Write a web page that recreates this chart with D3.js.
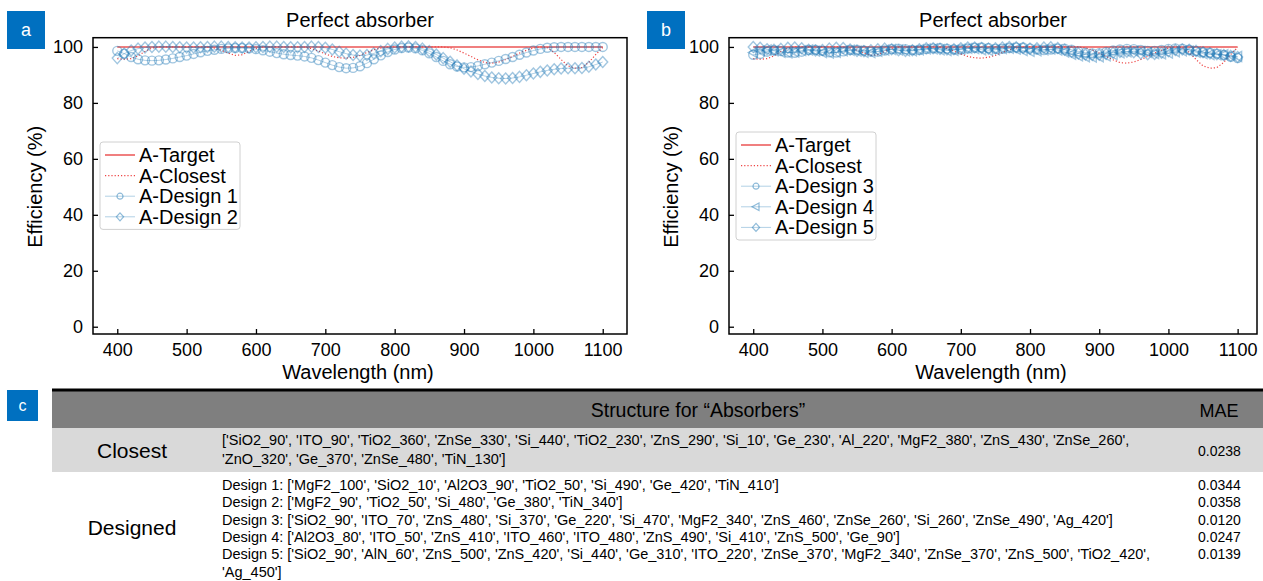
<!DOCTYPE html>
<html lang="en">
<head>
  <meta charset="UTF-8">
  <title>Perfect absorber designs</title>
  <style>
    body { margin: 0; background: #fff; font-family: Arial, "Liberation Sans", sans-serif; }
    svg text { font-family: Arial, "Liberation Sans", sans-serif; fill: #000; }
    .tick text { font-size: 18px; }
    .axis-label { font-size: 20px; }
    .title { font-size: 20px; }
    .legend text { font-size: 20px; }
    .tbl { font-size: 14.5px; }
    .mae { font-size: 14px; }
  </style>
</head>
<body>
  <div id="chart"></div>

  <script src="https://d3js.org/d3.v7.min.js"></script>
  <script>
    // wavelength grid (nm)
    const wavelengths = [400, 410, 420, 430, 440, 450, 460, 470, 480, 490, 500, 510, 520, 530, 540, 550, 560, 570, 580, 590,
      600, 610, 620, 630, 640, 650, 660, 670, 680, 690, 700, 710, 720, 730, 740, 750, 760, 770, 780, 790,
      800, 810, 820, 830, 840, 850, 860, 870, 880, 890, 900, 910, 920, 930, 940, 950, 960, 970, 980, 990,
      1000, 1010, 1020, 1030, 1040, 1050, 1060, 1070, 1080, 1090, 1100];

    // target is flat 100 %
    const targetLine = [[400, 100], [1100, 100]];

    const closest = [95.8, 95.6, 95.8, 96.8, 98.4, 99.6, 100, 100, 100, 100, 100, 100, 100, 99.9, 99.6, 98.8, 97.8, 97.0, 97.2, 98.4,
      99.5, 100, 100, 100, 100, 100, 100, 99.9, 99.4, 98.5, 97.5, 96.6, 96.1, 96.0, 96.3, 97.0, 98.0, 99.0, 99.6, 99.9,
      100, 100, 100, 100, 100, 100, 100, 100, 99.7, 98.9, 97.8, 96.6, 95.4, 94.4, 94.2, 94.6, 95.5, 96.6, 97.8, 98.8,
      99.6, 100, 99.8, 98.0, 95.5, 93.2, 92.4, 92.6, 94.5, 97.3, 99.8];

    const design1 = [98.6, 97.6, 96.4, 95.6, 95.2, 95.1, 95.2, 95.5, 95.9, 96.4, 96.9, 97.5, 98.1, 98.6, 99.0, 99.3, 99.5, 99.6, 99.6, 99.5,
      99.2, 98.8, 98.3, 97.8, 97.4, 97.1, 96.9, 96.6, 96.1, 95.3, 94.4, 93.5, 92.8, 92.4, 92.5, 93.1, 94.2, 95.6, 97.0, 98.2,
      99.1, 99.6, 99.8, 99.5, 98.8, 97.7, 96.4, 95.0, 93.8, 93.0, 92.7, 92.8, 93.2, 93.8, 94.4, 95.0, 95.7, 96.4, 97.2, 98.0,
      98.7, 99.3, 99.7, 99.9, 100, 100, 100, 100, 100, 100, 100];

    const design2 = [96.0, 97.6, 98.7, 99.4, 99.8, 100, 100.1, 100.1, 100, 99.9, 99.8, 99.8, 99.9, 100, 100.1, 100.1, 100, 99.9, 99.8, 99.8,
      99.9, 100, 100.1, 100.1, 100, 99.9, 99.9, 100, 100.1, 100, 99.7, 99.1, 98.3, 97.6, 97.1, 96.9, 97.1, 97.7, 98.5, 99.3,
      99.8, 100.1, 100.2, 100, 99.4, 98.5, 97.3, 96.0, 94.7, 93.4, 92.2, 91.2, 90.3, 89.6, 89.1, 88.8, 88.7, 88.9, 89.3, 89.9,
      90.5, 91.1, 91.6, 92.0, 92.3, 92.4, 92.4, 92.5, 92.9, 93.7, 94.6];

    const design3 = [97.2, 97.5, 98.3, 98.8, 98.5, 98.0, 97.9, 98.3, 98.9, 99.0, 98.6, 98.1, 98.0, 98.4, 98.9, 99.0, 98.7, 98.3, 98.3, 98.7,
      99.2, 99.4, 99.2, 98.9, 98.9, 99.2, 99.5, 99.6, 99.4, 99.1, 99.1, 99.4, 99.7, 99.8, 99.6, 99.3, 99.3, 99.6, 99.8, 99.8,
      99.5, 99.1, 98.9, 99.1, 99.4, 99.4, 99.0, 98.4, 97.9, 97.7, 97.8, 98.2, 98.7, 99.1, 99.3, 99.2, 98.9, 98.6, 98.6, 98.9,
      99.3, 99.5, 99.4, 99.0, 98.5, 98.1, 97.9, 97.6, 97.1, 96.5, 96.0];

    const design4 = [98.0, 98.6, 98.9, 98.6, 98.1, 97.9, 98.2, 98.7, 98.9, 98.5, 98.0, 97.8, 98.1, 98.6, 98.8, 98.5, 98.1, 98.0, 98.4, 98.9,
      99.1, 98.9, 98.6, 98.6, 99.0, 99.3, 99.3, 99.0, 98.7, 98.8, 99.2, 99.5, 99.4, 99.0, 98.8, 99.0, 99.4, 99.5, 99.2, 98.7,
      98.4, 98.6, 99.0, 99.2, 98.9, 98.2, 97.4, 96.8, 96.5, 96.4, 96.5, 96.8, 97.3, 97.9, 98.3, 98.5, 98.4, 98.0, 97.6, 97.5,
      97.8, 98.3, 98.6, 98.5, 98.1, 97.6, 97.3, 97.2, 97.2, 97.0, 96.6];

    const design5 = [100, 99.7, 99.2, 99.0, 99.3, 99.7, 99.8, 99.5, 99.0, 98.7, 98.9, 99.4, 99.7, 99.6, 99.1, 98.6, 98.5, 98.8, 99.2, 99.4,
      99.2, 98.8, 98.6, 98.8, 99.2, 99.5, 99.5, 99.3, 99.1, 99.2, 99.5, 99.8, 99.8, 99.6, 99.4, 99.5, 99.8, 100, 99.9, 99.6,
      99.4, 99.5, 99.8, 99.9, 99.6, 99.0, 98.3, 97.7, 97.3, 97.1, 97.2, 97.5, 97.9, 98.2, 98.3, 98.1, 97.7, 97.4, 97.5, 97.9,
      98.5, 98.9, 99.1, 99.0, 98.6, 98.1, 97.7, 97.4, 97.1, 96.8, 96.4];

    const xTicks = [400, 500, 600, 700, 800, 900, 1000, 1100];
    const yTicks = [0, 20, 40, 60, 80, 100];

    // table content
    const closestStructure = [
      "['SiO2_90', 'ITO_90', 'TiO2_360', 'ZnSe_330', 'Si_440', 'TiO2_230', 'ZnS_290', 'Si_10', 'Ge_230', 'Al_220', 'MgF2_380', 'ZnS_430', 'ZnSe_260',",
      "'ZnO_320', 'Ge_370', 'ZnSe_480', 'TiN_130']"
    ];
    const closestMae = "0.0238";
    const designStructure = [
      "Design 1: ['MgF2_100', 'SiO2_10', 'Al2O3_90', 'TiO2_50', 'Si_490', 'Ge_420', 'TiN_410']",
      "Design 2: ['MgF2_90', 'TiO2_50', 'Si_480', 'Ge_380', 'TiN_340']",
      "Design 3: ['SiO2_90', 'ITO_70', 'ZnS_480', 'Si_370', 'Ge_220', 'Si_470', 'MgF2_340', 'ZnS_460', 'ZnSe_260', 'Si_260', 'ZnSe_490', 'Ag_420']",
      "Design 4: ['Al2O3_80', 'ITO_50', 'ZnS_410', 'ITO_460', 'ITO_480', 'ZnS_490', 'Si_410', 'ZnS_500', 'Ge_90']",
      "Design 5: ['SiO2_90', 'AlN_60', 'ZnS_500', 'ZnS_420', 'Si_440', 'Ge_310', 'ITO_220', 'ZnSe_370', 'MgF2_340', 'ZnSe_370', 'ZnS_500', 'TiO2_420',",
      "'Ag_450']"
    ];
    const designMae = ["0.0344", "0.0358", "0.0120", "0.0247", "0.0139"];

    const W = 1263, H = 581;
    const blue = "#1f77b4";
    const red = "#f07f7f";

    const svg = d3.select("#chart").append("svg")
      .attr("width", W)
      .attr("height", H);

    // marker shapes
    const shapes = {
      circle: "M4.5,0A4.5,4.5 0 1,1 -4.5,0A4.5,4.5 0 1,1 4.5,0Z",
      diamond: "M0,-5.5L5,0L0,5.5L-5,0Z",
      tri: "M-5,0L4,-5L4,5Z"
    };
    const smallShapes = {
      circle: "M3,0A3,3 0 1,1 -3,0A3,3 0 1,1 3,0Z",
      diamond: "M0,-4L3.6,0L0,4L-3.6,0Z",
      tri: "M-4,0L3,-3.8L3,3.8Z"
    };

    const y = d3.scaleLinear().domain([-2.6, 103.3]).range([334, 37.7]);

    function drawPanel(opt) {
      const x = d3.scaleLinear().domain(opt.xDomain).range(opt.xRange);
      const g = svg.append("g");
      const [x0, x1] = opt.xRange;

      // panel letter
      g.append("rect").attr("x", opt.tagX).attr("y", 11).attr("width", 38).attr("height", 38).attr("fill", "#0070c0");
      g.append("text").attr("x", opt.tagX + 19).attr("y", 36).attr("text-anchor", "middle")
        .style("fill", "#fff").style("font-size", "18px").text(opt.tag);

      g.append("text").attr("class", "title")
        .attr("x", (x0 + x1) / 2).attr("y", 27).attr("text-anchor", "middle")
        .text("Perfect absorber");

      // axes with inward ticks
      g.append("g").attr("class", "axis")
        .attr("transform", `translate(0,${y.range()[0]})`)
        .call(d3.axisBottom(x).tickValues(xTicks).tickSize(-5).tickPadding(9).tickFormat(d3.format("d")))
        .call(a => a.select(".domain").remove());
      g.append("g").attr("class", "axis")
        .attr("transform", `translate(${x0},0)`)
        .call(d3.axisLeft(y).tickValues(yTicks).tickSize(-5).tickPadding(10))
        .call(a => a.select(".domain").remove());
      g.selectAll(".tick line").attr("stroke", "#000").attr("stroke-width", 1.3);

      g.append("rect")
        .attr("x", x0).attr("y", y.range()[1])
        .attr("width", x1 - x0).attr("height", y.range()[0] - y.range()[1])
        .attr("fill", "none").attr("stroke", "#000").attr("stroke-width", 1.5);

      g.append("text").attr("class", "axis-label")
        .attr("x", (x0 + x1) / 2 - 2).attr("y", 379).attr("text-anchor", "middle")
        .text("Wavelength (nm)");
      g.append("text").attr("class", "axis-label")
        .attr("transform", `translate(${x0 - 51},${y(50)}) rotate(-90)`)
        .attr("text-anchor", "middle")
        .text("Efficiency (%)");

      const line = d3.line().x(d => x(d[0])).y(d => y(d[1]));

      // target
      g.append("path").attr("d", line(targetLine))
        .attr("fill", "none").attr("stroke", red).attr("stroke-width", 2);

      // closest
      g.append("path").attr("d", line(wavelengths.map((w, i) => [w, closest[i]])))
        .attr("fill", "none").attr("stroke", "#ee4444").attr("stroke-width", 1.2)
        .attr("stroke-dasharray", "1.2,2");

      // designs
      opt.designs.forEach(s => {
        const pts = wavelengths.map((w, i) => [w, s.values[i]]);
        g.append("path").attr("d", line(pts))
          .attr("fill", "none").attr("stroke", blue).attr("stroke-opacity", 0.35).attr("stroke-width", 1);
        g.append("g").selectAll("path")
          .data(pts)
          .join("path")
          .attr("transform", d => `translate(${x(d[0])},${y(d[1])})`)
          .attr("d", shapes[s.shape])
          .attr("fill", "none")
          .attr("stroke", blue)
          .attr("stroke-opacity", 0.42)
          .attr("stroke-width", 1.4);
      });

      // legend
      const lg = g.append("g").attr("class", "legend");
      const items = [{ name: "A-Target", kind: "target" }, { name: "A-Closest", kind: "closest" }]
        .concat(opt.designs.map(s => ({ name: s.name, kind: "design", shape: s.shape })));
      lg.append("rect")
        .attr("x", opt.legX).attr("y", opt.legY)
        .attr("width", 140).attr("height", items.length * 20.6 + 5)
        .attr("rx", 3)
        .attr("fill", "#fff").attr("fill-opacity", 0.8)
        .attr("stroke", "#d0d0d0");
      items.forEach((it, i) => {
        const cy = opt.legY + 13 + i * 20.6;
        const lx = opt.legX + 5;
        const ln = lg.append("line").attr("x1", lx).attr("x2", lx + 30).attr("y1", cy).attr("y2", cy);
        if (it.kind === "target") ln.attr("stroke", red).attr("stroke-width", 2);
        else if (it.kind === "closest") ln.attr("stroke", "#ee4444").attr("stroke-width", 1.2).attr("stroke-dasharray", "1.2,2");
        else {
          ln.attr("stroke", blue).attr("stroke-opacity", 0.35).attr("stroke-width", 1);
          lg.append("path").attr("transform", `translate(${lx + 15},${cy})`)
            .attr("d", smallShapes[it.shape]).attr("fill", "none")
            .attr("stroke", blue).attr("stroke-opacity", 0.5).attr("stroke-width", 1.2);
        }
        lg.append("text").attr("x", lx + 34).attr("y", cy + 7).text(it.name);
      });
    }

    drawPanel({
      tag: "a", tagX: 7,
      xDomain: [365, 1135], xRange: [93, 627],
      legX: 100, legY: 142,
      designs: [
        { name: "A-Design 1", values: design1, shape: "circle" },
        { name: "A-Design 2", values: design2, shape: "diamond" }
      ]
    });

    drawPanel({
      tag: "b", tagX: 647,
      xDomain: [365, 1128], xRange: [729, 1257],
      legX: 736, legY: 132,
      designs: [
        { name: "A-Design 3", values: design3, shape: "circle" },
        { name: "A-Design 4", values: design4, shape: "tri" },
        { name: "A-Design 5", values: design5, shape: "diamond" }
      ]
    });

    // ---- table (panel c) ----
    const t = svg.append("g");
    t.append("rect").attr("x", 7).attr("y", 390).attr("width", 31).attr("height", 31).attr("fill", "#0070c0");
    t.append("text").attr("x", 22.5).attr("y", 411).attr("text-anchor", "middle")
      .style("fill", "#fff").style("font-size", "16px").text("c");

    t.append("rect").attr("x", 52).attr("y", 391).attr("width", W - 52).attr("height", 37).attr("fill", "#7f7f7f");
    t.append("line").attr("x1", 52).attr("x2", W).attr("y1", 390).attr("y2", 390).attr("stroke", "#000").attr("stroke-width", 3);
    t.append("rect").attr("x", 52).attr("y", 428).attr("width", W - 52).attr("height", 44).attr("fill", "#d9d9d9");

    t.append("text").attr("x", 698).attr("y", 417).attr("text-anchor", "middle").style("font-size", "19.5px")
      .text("Structure for \u201cAbsorbers\u201d");
    t.append("text").attr("x", 1219).attr("y", 417).attr("text-anchor", "middle").style("font-size", "18px")
      .text("MAE");

    t.append("text").attr("x", 132).attr("y", 458).attr("text-anchor", "middle").style("font-size", "21px").text("Closest");
    t.append("text").attr("x", 132).attr("y", 535).attr("text-anchor", "middle").style("font-size", "21px").text("Designed");

    t.selectAll("text.cl").data(closestStructure).join("text")
      .attr("class", "tbl cl").attr("x", 222).attr("y", (d, i) => 445 + i * 19).text(d => d);
    t.append("text").attr("class", "mae").attr("x", 1198).attr("y", 456).text(closestMae);

    t.selectAll("text.ds").data(designStructure).join("text")
      .attr("class", "tbl ds").attr("x", 222).attr("y", (d, i) => 490 + i * 17.3).text(d => d);
    t.selectAll("text.dm").data(designMae).join("text")
      .attr("class", "mae dm").attr("x", 1198).attr("y", (d, i) => 490 + i * 17.3).text(d => d);
  </script>
</body>
</html>
